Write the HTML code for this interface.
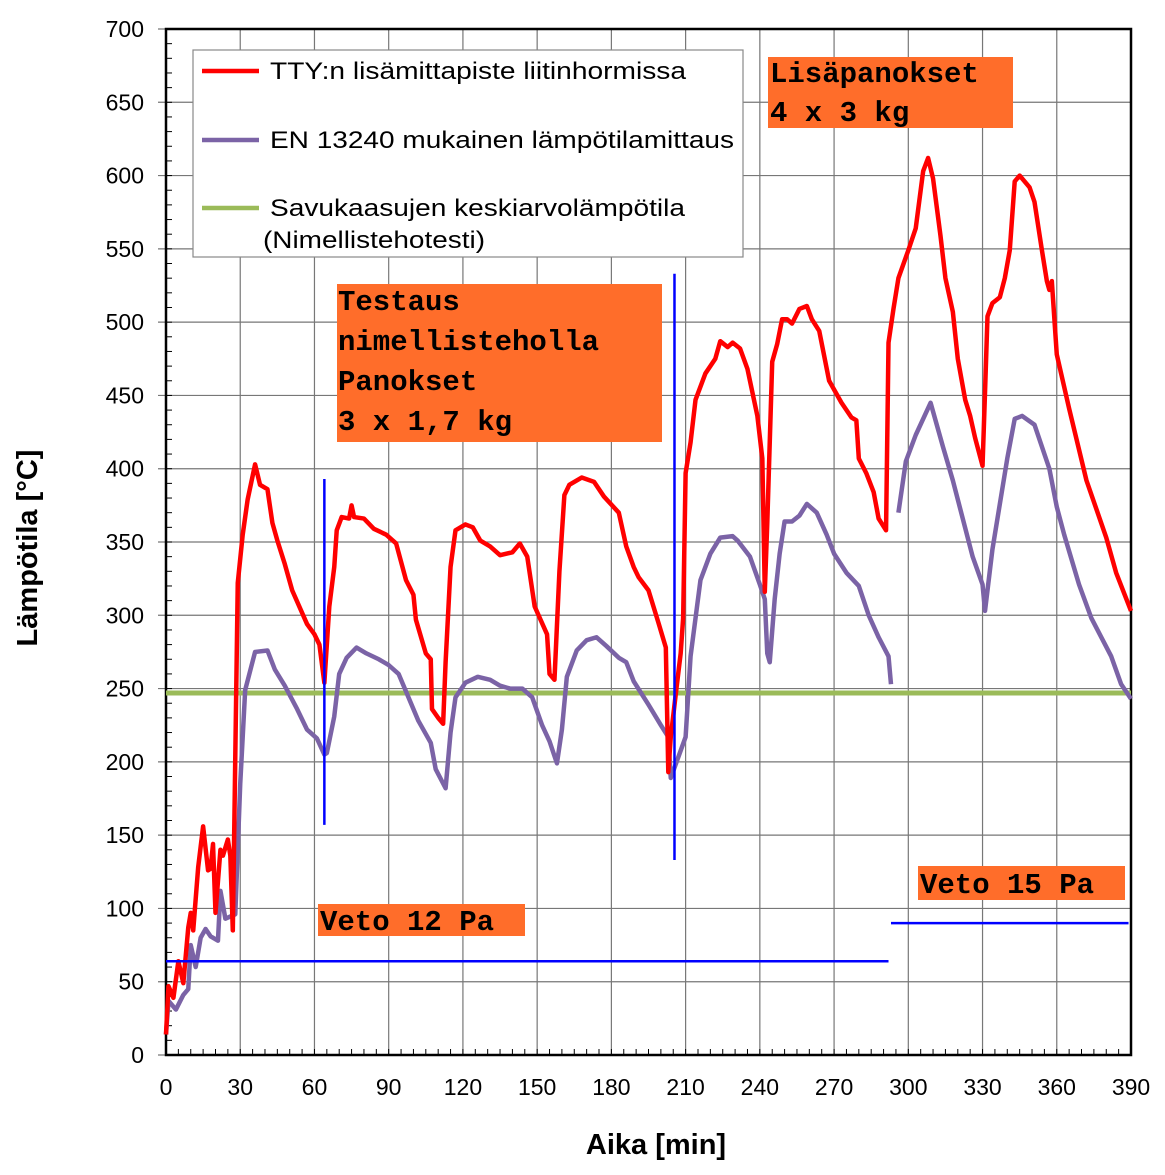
<!DOCTYPE html>
<html><head><meta charset="utf-8"><style>
body{margin:0;background:#fff}
svg{display:block;font-family:"Liberation Sans",sans-serif}
.ann{font-family:"Liberation Mono",monospace;font-weight:bold;font-size:29px;fill:#000}
</style></head><body>
<svg id="chart" width="1165" height="1175" viewBox="0 0 1165 1175" xmlns="http://www.w3.org/2000/svg">
<g id="grid"></g>
<g id="axes"></g>
<g id="series"></g>
<g>
<rect x="193" y="50" width="550" height="207" fill="#fff" stroke="#888" stroke-width="1.2"/>
<line x1="202" y1="71" x2="259" y2="71" stroke="#ff0000" stroke-width="4.5"/>
<text x="270" y="79" font-size="24" textLength="416" lengthAdjust="spacingAndGlyphs">TTY:n lisämittapiste liitinhormissa</text>
<line x1="202" y1="140" x2="259" y2="140" stroke="#7b63a6" stroke-width="4.5"/>
<text x="270" y="148" font-size="24" textLength="464" lengthAdjust="spacingAndGlyphs">EN 13240 mukainen lämpötilamittaus</text>
<line x1="202" y1="208" x2="259" y2="208" stroke="#9bbb59" stroke-width="4.5"/>
<text x="270" y="216" font-size="24" textLength="415" lengthAdjust="spacingAndGlyphs">Savukaasujen keskiarvolämpötila</text>
<text x="263" y="248" font-size="24" textLength="222" lengthAdjust="spacingAndGlyphs">(Nimellistehotesti)</text>
</g>
<g>
<rect x="768" y="57" width="245" height="71" fill="#ff6d2a"/>
<text class="ann" x="770" y="82">Lisäpanokset</text>
<text class="ann" x="770" y="121"> 4 x 3 kg</text>
<rect x="337" y="284" width="325" height="158" fill="#ff6d2a"/>
<text class="ann" x="338" y="310">Testaus</text>
<text class="ann" x="338" y="350">nimellisteholla</text>
<text class="ann" x="338" y="390">Panokset</text>
<text class="ann" x="338" y="430">3 x 1,7 kg</text>
<rect x="318" y="904" width="207" height="32" fill="#ff6d2a"/>
<text class="ann" x="320" y="930">Veto 12 Pa</text>
<rect x="918" y="866" width="207" height="34" fill="#ff6d2a"/>
<text class="ann" x="920" y="893">Veto 15 Pa</text>
</g>
<text x="656" y="1154" text-anchor="middle" font-size="29" font-weight="bold">Aika [min]</text>
<text transform="translate(37,548) rotate(-90)" text-anchor="middle" font-size="29" font-weight="bold">Lämpötila [°C]</text>
</svg>
<script>
const redMin=[0,1,3,5,7,9,10,11,13,15,17,18,19,20,22,23,25,26,27,29,31,33,36,38,41,43,45,48,51,57,60,62,64,66,68,69,71,74,75,76,80,84,89,93,97,100,101,105,107,107.5,110,112,113,115,117,121,124,127,131,135,140,143,146,149,154,155,157,159,161,163,168,173,177,183,186,189,191,195,199,202,203,204,206,208,209,210,212,214,218,222,224,227,229,232,235,239,241,242,243,245,247,249,251,253,256,259,261,264,268,273,277,279,280,283,286,288,291,292,294,296,300,303,306,308,310,313,315,318,320,323,325,327,330,331,332,334,337,339,341,343,345,349,351,354,356,357,358,360,365,372,380,384,390];
const redTemp=[14,47,39,64,49,87,97,85,128,156,126,127,144,97,140,136,147,136,85,322,355,379,403,389,386,363,351,335,317,294,287,280,254,306,333,358,367,366,375,367,366,359,355,349,324,314,297,274,270,236,230,226,268,333,358,362,360,351,347,341,343,349,340,306,287,260,256,330,382,389,394,391,381,370,347,333,326,317,295,278,193,217,246,274,298,397,418,447,465,475,487,483,486,482,468,436,407,316,363,473,485,502,502,499,509,511,502,494,460,445,435,433,407,397,384,366,358,486,509,530,549,564,603,612,598,559,530,507,475,447,436,421,402,452,504,513,517,530,549,596,600,592,582,549,528,522,528,478,441,392,353,329,303];
const purMin=[0,1,4,7,9,10,12,14,16,18,21,22,24,28,30,32,36,41,44,48,53,57,61,64,65,68,70,73,77,81,86,90,94,98,102,107,109,113,115,117,121,126,131,135,139,144,148,152,155,158,160,162,166,170,174,178,183,186,189,195,200,203,204,210,212,216,220,224,229,231,236,240,242,243,244,246,248,250,253,256,259,263,267,270,275,280,284,288,292,293];
const purTemp=[14,37,31,41,45,75,60,80,86,81,78,112,93,96,185,249,275,276,263,252,236,222,216,205,206,231,260,271,278,274,270,266,260,244,228,213,195,182,220,244,254,258,256,252,250,250,244,225,214,199,222,258,276,283,285,279,271,268,255,239,225,217,189,217,272,324,342,353,354,351,340,321,311,274,268,311,342,364,364,368,376,370,355,342,329,320,300,285,272,253];
const pur2Min=[296,299,303,309,314,318,322,326,330,331,334,337,340,343,346,351,357,360,363,369,374,382,386,390];
const pur2Temp=[370,405,423,445,415,392,366,340,321,303,345,376,407,434,436,430,400,374,355,321,298,272,253,243];
const avgTemp=[247];
const vetoMin=[[0,292],[293,389]];
const vetoTemp=[64,90];
const markMin=[64,205.5];
const markRange=[[157,393],[133,533]];
const xTicks=[0,30,60,90,120,150,180,210,240,270,300,330,360,390];
const yTicks=[0,50,100,150,200,250,300,350,400,450,500,550,600,650,700];

const L=166,R=1131,T=29,B=1055;
const X=m=>L+(m/390)*(R-L);
const Y=v=>B-(v/700)*(B-T);
const NS="http://www.w3.org/2000/svg";
function mk(tag,attrs,parent){const e=document.createElementNS(NS,tag);for(const k in attrs)e.setAttribute(k,attrs[k]);parent.appendChild(e);return e;}
const grid=document.getElementById('grid'),axes=document.getElementById('axes'),ser=document.getElementById('series');
xTicks.forEach(t=>{
 const l=mk('line',{x1:X(t),x2:X(t),y1:T,y2:B,stroke:'#777','stroke-width':1.2},grid);
 
 
 const tx=mk('text',{x:X(t),y:B+40,'text-anchor':'middle','font-size':23},axes);
 tx.textContent=t;
 
 
});
yTicks.forEach(t=>{
 const l=mk('line',{x1:L-8,x2:R,y1:Y(t),y2:Y(t),stroke:'#777','stroke-width':1.2},grid);
 
 
 const tx=mk('text',{x:L-22,y:Y(t)+8,'text-anchor':'end','font-size':23},axes);
 tx.textContent=t;
 
 
});
for(let v=0;v<=700;v+=10){const l=mk('line',{x1:L,x2:L+6,y1:Y(v),y2:Y(v),stroke:'#000','stroke-width':1},axes);}
for(let m=0;m<=390;m+=5){const l=mk('line',{x1:X(m),x2:X(m),y1:B,y2:B-6,stroke:'#000','stroke-width':1},axes);}
const fr=mk('rect',{x:L,y:T,width:R-L,height:B-T,fill:'none',stroke:'#000','stroke-width':2.5},axes);



function poly(xs,ys,color,w,name){
 const p=mk('polyline',{points:xs.map((m,i)=>X(m)+','+Y(ys[i])).join(' '),fill:'none',stroke:color,'stroke-width':w,'stroke-linejoin':'round'},ser);
 
 
}
const g=mk('line',{x1:X(0),x2:X(390),y1:Y(avgTemp[0]),y2:Y(avgTemp[0]),stroke:'#9bbb59','stroke-width':5},ser);


poly(purMin,purTemp,'#7b63a6',4.5,'en13240-series');
poly(pur2Min,pur2Temp,'#7b63a6',4.5,'en13240-series-part2');
poly(redMin,redTemp,'#ff0000',4.5,'tty-series');
vetoMin.forEach((r,i)=>{
 const l=mk('line',{x1:X(r[0]),x2:X(r[1]),y1:Y(vetoTemp[i]),y2:Y(vetoTemp[i]),stroke:'#0000ff','stroke-width':2.5},ser);
 
 
});
markMin.forEach((m,i)=>{
 const l=mk('line',{x1:X(m),x2:X(m),y1:Y(markRange[i][0]),y2:Y(markRange[i][1]),stroke:'#0000ff','stroke-width':2.5},ser);
 
 
});
</script>
</body></html>
